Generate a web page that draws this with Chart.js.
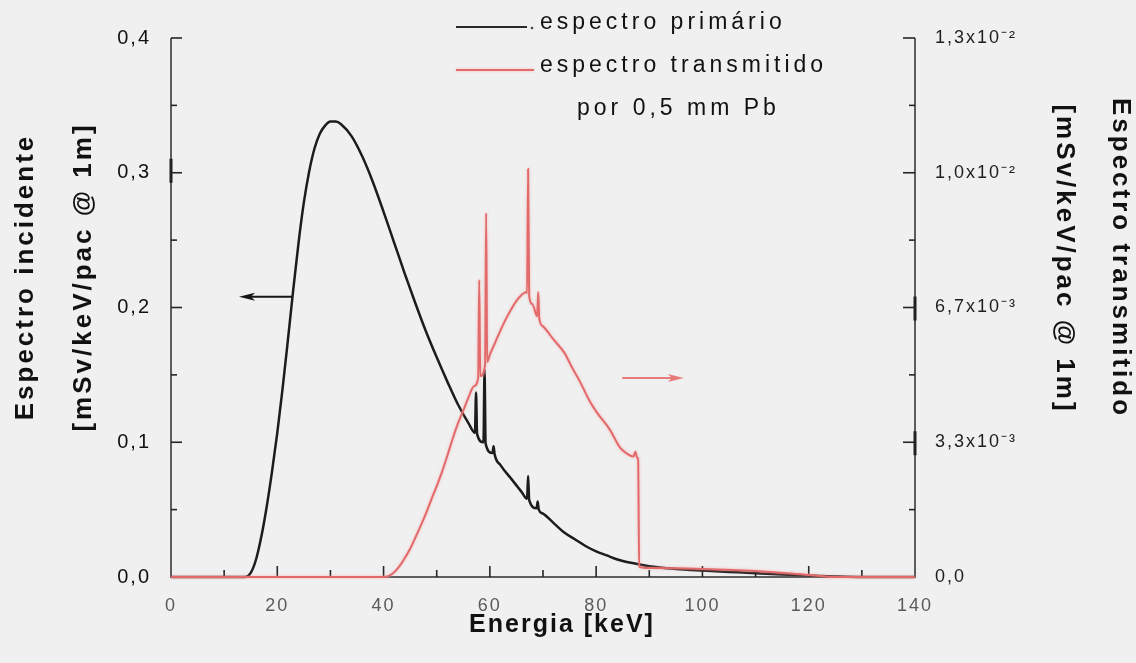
<!DOCTYPE html>
<html lang="pt">
<head>
<meta charset="utf-8">
<title>Espectro primário e transmitido</title>
<script src="https://cdn.jsdelivr.net/npm/chart.js@4.4.1/dist/chart.umd.min.js"></script>
<style>
  html, body { margin: 0; padding: 0; background: #f0f0f0; }
  canvas { display: block; }
</style>
</head>
<body>
<canvas id="grafico" width="1136" height="663"></canvas>
<script>
// Espectro primário (eixo esquerdo, mSv/keV/pac @ 1m)
const energiaPrimario = [0, 14, 15, 16, 17, 18, 19, 20, 21, 22,
  23, 24, 25, 26, 27, 28, 29, 30, 31, 32,
  34, 36, 38, 40, 42, 44, 46, 48, 50, 52,
  54, 56, 57.2, 57.4, 57.6, 58.8, 59.0, 59.2, 60.5, 60.7,
  60.9, 62, 64, 66, 67.0, 67.2, 67.4, 68.8, 69.0, 69.2,
  70, 72, 74, 76, 78, 80, 82, 84, 86, 88,
  90, 95, 100, 105, 110, 115, 120, 125, 130, 140];
const espectroPrimario = [0, 0, 0.003, 0.013, 0.030, 0.052, 0.078, 0.107, 0.140, 0.176,
  0.213, 0.248, 0.278, 0.301, 0.318, 0.329, 0.335, 0.338, 0.338, 0.336,
  0.327, 0.312, 0.293, 0.271, 0.248, 0.225, 0.203, 0.182, 0.163, 0.145,
  0.128, 0.114, 0.107, 0.137, 0.106, 0.100, 0.154, 0.099, 0.092, 0.097,
  0.091, 0.083, 0.073, 0.063, 0.058, 0.075, 0.057, 0.051, 0.056, 0.050,
  0.047, 0.040, 0.033, 0.028, 0.023, 0.019, 0.016, 0.013, 0.011, 0.0095,
  0.008, 0.006, 0.0048, 0.0038, 0.0028, 0.0019, 0.0011, 0.0004, 0, 0];

// Espectro transmitido por 0,5 mm Pb (eixo direito, em 10^-3 mSv/keV/pac @ 1m)
const energiaTransmitido = [0, 40, 41, 42, 43, 44, 45, 46, 47, 48,
  49, 50, 51, 52, 53, 54, 55, 56, 57, 57.8,
  58.0, 58.2, 59.1, 59.3, 59.5, 60, 61, 62, 63, 64,
  65, 66, 66.8, 67.0, 67.2, 67.4, 68, 68.9, 69.1, 69.3,
  70, 72, 74, 75.6, 77, 78.8, 80.2, 82.6, 84.5, 85.5,
  87, 87.4, 87.7, 87.9, 88.1, 90, 100, 110, 120, 125,
  140];
const espectroTransmitido = [0, 0, 0.03, 0.12, 0.27, 0.47, 0.7, 0.98, 1.27, 1.58,
  1.92, 2.25, 2.6, 3.0, 3.42, 3.8, 4.12, 4.45, 4.72, 4.92,
  7.35, 4.97, 5.25, 9.0, 5.32, 5.5, 5.8, 6.1, 6.38, 6.62,
  6.83, 6.98, 7.05, 7.02, 10.1, 6.95, 6.75, 6.45, 7.05, 6.4,
  6.2, 5.87, 5.55, 5.15, 4.82, 4.35, 4.06, 3.64, 3.2, 3.08,
  2.98, 3.1, 2.95, 2.92, 0.25, 0.22, 0.2, 0.15, 0.05, 0,
  0];

// Marcas e rótulos dos eixos
const valoresEsquerdo = [0, 0.1, 0.2, 0.3, 0.4];
const rotulosEsquerdo = ['0,0', '0,1', '0,2', '0,3', '0,4'];
const menoresEsquerdo = [0.05, 0.15, 0.25, 0.35];
const valoresDireito = [0, 10 / 3, 20 / 3, 10, 40 / 3];
const rotulosDireito = ['0,0', '3,3x10\u207B\u00B3', '6,7x10\u207B\u00B3', '1,0x10\u207B\u00B2', '1,3x10\u207B\u00B2'];
const menoresDireito = [5 / 3, 5, 25 / 3, 35 / 3];
const menoresEnergia = [10, 30, 50, 70, 90, 110, 130];

// Textos
const tituloEsquerdo = ['Espectro incidente', '[mSv/keV/pac @ 1m]'];
const tituloDireito = ['Espectro transmitido', '[mSv/keV/pac @ 1m]'];
const tituloEnergia = 'Energia [keV]';
const nomePrimario = 'espectro primário';
const nomeTransmitido = ['espectro transmitido', 'por 0,5 mm Pb'];

// Setas indicando o eixo de cada curva (em unidades de dados)
const setas = [
  { eixo: 'y', de: [22.8, 0.208], para: [12.8, 0.208], cor: '#161616' },
  { eixo: 'y2', de: [84.9, 4.92], para: [96.5, 4.92], cor: '#e77a7a' }
];

const FONTE = '"Liberation Sans", Arial, Helvetica, sans-serif';
const PRETO = '#1c1c1c';
const VERMELHO = '#e26a6a';

function pontos(xs, ys) {
  return xs.map((x, i) => ({ x: x, y: ys[i] }));
}

function texto(ctx, str, x, y, o) {
  ctx.save();
  ctx.translate(x, y);
  ctx.rotate(o.rot || 0);
  ctx.font = o.font;
  ctx.fillStyle = o.color || '#111';
  ctx.letterSpacing = o.spacing || '0px';
  ctx.textAlign = o.align || 'left';
  ctx.textBaseline = o.baseline || 'alphabetic';
  ctx.fillText(str, 0, 0);
  ctx.restore();
}

function linha(ctx, x1, y1, x2, y2) {
  ctx.beginPath();
  ctx.moveTo(x1, y1);
  ctx.lineTo(x2, y2);
  ctx.stroke();
}

const moldura = {
  id: 'moldura',
  beforeDraw(chart) {
    chart.ctx.letterSpacing = '2px';
  },
  beforeDatasetsDraw(chart) {
    const { ctx, chartArea: a, scales: { x, y, y2 } } = chart;
    ctx.save();
    ctx.lineCap = 'butt';
    // linhas dos eixos
    ctx.strokeStyle = '#5c5c5c';
    ctx.lineWidth = 2;
    ctx.beginPath();
    ctx.moveTo(a.left, a.top);
    ctx.lineTo(a.left, a.bottom);
    ctx.lineTo(a.right, a.bottom);
    ctx.lineTo(a.right, a.top);
    ctx.stroke();

    ctx.strokeStyle = '#262626';
    ctx.lineWidth = 1.6;
    // eixo de energia: marcas para dentro
    x.ticks.forEach(t => {
      if (t.value <= x.min || t.value >= x.max) return;
      const px = x.getPixelForValue(t.value);
      linha(ctx, px, a.bottom, px, a.bottom - 11);
    });
    menoresEnergia.forEach(v => {
      const px = x.getPixelForValue(v);
      linha(ctx, px, a.bottom, px, a.bottom - 7);
    });
    // eixo esquerdo
    y.ticks.forEach(t => {
      if (t.value <= y.min) return;
      const py = y.getPixelForValue(t.value);
      linha(ctx, a.left, py, a.left + 11, py);
    });
    menoresEsquerdo.forEach(v => {
      const py = y.getPixelForValue(v);
      linha(ctx, a.left, py, a.left + 6, py);
    });
    // eixo direito
    y2.ticks.forEach(t => {
      if (t.value <= y2.min) return;
      const py = y2.getPixelForValue(t.value);
      linha(ctx, a.right, py, a.right - 12, py);
    });
    menoresDireito.forEach(v => {
      const py = y2.getPixelForValue(v);
      linha(ctx, a.right, py, a.right - 6, py);
    });
    // trechos mais grossos do eixo junto a algumas marcas
    ctx.lineWidth = 3;
    ctx.strokeStyle = '#202020';
    [0.3].forEach(v => {
      const py = y.getPixelForValue(v);
      linha(ctx, a.left, py - 14, a.left, py + 10);
    });
    [10 / 3, 20 / 3].forEach(v => {
      const py = y2.getPixelForValue(v);
      linha(ctx, a.right, py - 11, a.right, py + 13);
    });
    ctx.restore();

    // halo suave na curva transmitida
    ctx.save();
  },
  beforeDatasetDraw(chart, args) {
    const ctx = chart.ctx;
    ctx.save();
    if (args.meta.yAxisID === 'y2') {
      ctx.shadowColor = 'rgba(245, 160, 160, 0.7)';
      ctx.shadowBlur = 3;
    }
  },
  afterDatasetDraw(chart) {
    chart.ctx.restore();
  },
  afterDatasetsDraw(chart) {
    chart.ctx.restore();
  },
  afterDraw(chart) {
    const { ctx, scales } = chart;
    const negrito = 'bold 26px ' + FONTE;

    // títulos dos eixos
    texto(ctx, tituloEsquerdo[0], 33, 277, { font: negrito, spacing: '3px', align: 'center', rot: -Math.PI / 2 });
    texto(ctx, tituloEsquerdo[1], 91, 277, { font: negrito, spacing: '3px', align: 'center', rot: -Math.PI / 2 });
    texto(ctx, tituloDireito[0], 1113, 258, { font: negrito, spacing: '3px', align: 'center', rot: Math.PI / 2 });
    texto(ctx, tituloDireito[1], 1057, 259, { font: negrito, spacing: '3px', align: 'center', rot: Math.PI / 2 });
    texto(ctx, tituloEnergia, 562, 632, { font: 'bold 25px ' + FONTE, spacing: '2px', align: 'center' });

    // legenda
    const fonteLeg = '23px ' + FONTE;
    ctx.save();
    ctx.lineWidth = 2.2;
    ctx.strokeStyle = '#2a2a2a';
    linha(ctx, 456, 27, 527, 27);
    ctx.fillStyle = '#444';
    ctx.beginPath();
    ctx.arc(532, 28, 1.3, 0, Math.PI * 2);
    ctx.fill();
    ctx.strokeStyle = VERMELHO;
    ctx.shadowColor = 'rgba(245, 160, 160, 0.7)';
    ctx.shadowBlur = 3;
    linha(ctx, 456, 70, 534, 70);
    ctx.restore();
    texto(ctx, nomePrimario, 540, 29, { font: fonteLeg, spacing: '4px', color: '#111' });
    texto(ctx, nomeTransmitido[0], 540, 72, { font: fonteLeg, spacing: '4px', color: '#111' });
    texto(ctx, nomeTransmitido[1], 577, 115, { font: fonteLeg, spacing: '4px', color: '#111' });

    // setas
    setas.forEach(s => {
      const ys = scales[s.eixo];
      const x1 = scales.x.getPixelForValue(s.de[0]);
      const x2 = scales.x.getPixelForValue(s.para[0]);
      const py = ys.getPixelForValue(s.de[1]);
      const dir = Math.sign(x2 - x1);
      const cab = 16;
      ctx.save();
      ctx.strokeStyle = s.cor;
      ctx.fillStyle = s.cor;
      ctx.lineWidth = 2;
      linha(ctx, x1, py, x2 - dir * cab * 0.6, py);
      ctx.beginPath();
      ctx.moveTo(x2, py);
      ctx.lineTo(x2 - dir * cab, py - 4);
      ctx.lineTo(x2 - dir * cab * 0.75, py);
      ctx.lineTo(x2 - dir * cab, py + 4);
      ctx.closePath();
      ctx.fill();
      ctx.restore();
    });
  }
};

new Chart(document.getElementById('grafico'), {
  type: 'line',
  data: {
    datasets: [
      {
        label: nomeTransmitido.join(' '),
        data: pontos(energiaTransmitido, espectroTransmitido),
        yAxisID: 'y2',
        borderColor: VERMELHO,
        borderWidth: 2,
        order: 1,
        clip: 6
      },
      {
        label: nomePrimario,
        data: pontos(energiaPrimario, espectroPrimario),
        yAxisID: 'y',
        borderColor: PRETO,
        borderWidth: 2.5,
        order: 2,
        clip: 6
      }
    ]
  },
  options: {
    responsive: false,
    animation: false,
    devicePixelRatio: 1,
    layout: { padding: { top: 38, left: 0, right: 0, bottom: 0 } },
    plugins: { legend: { display: false }, tooltip: { enabled: false } },
    elements: {
      point: { radius: 0 },
      line: { cubicInterpolationMode: 'monotone', borderJoinStyle: 'round' }
    },
    scales: {
      x: {
        type: 'linear', position: 'bottom', min: 0, max: 140,
        grid: { display: false }, border: { display: false },
        ticks: {
          stepSize: 20, padding: 10, autoSkip: false, maxRotation: 0,
          color: '#5a5a5a', font: { family: FONTE, size: 18 }
        },
        afterFit(s) { s.height = 86; }
      },
      y: {
        type: 'linear', position: 'left', min: 0, max: 0.4,
        grid: { display: false }, border: { display: false },
        afterBuildTicks(s) { s.ticks = valoresEsquerdo.map(v => ({ value: v })); },
        ticks: {
          padding: 12, color: '#111', font: { family: FONTE, size: 20 },
          callback: (v, i) => rotulosEsquerdo[i]
        },
        afterFit(s) { s.width = 171; }
      },
      y2: {
        type: 'linear', position: 'right', min: 0, max: 40 / 3,
        grid: { display: false }, border: { display: false },
        afterBuildTicks(s) { s.ticks = valoresDireito.map(v => ({ value: v })); },
        ticks: {
          padding: 12, color: '#1e1e1e', font: { family: FONTE, size: 18 },
          callback: (v, i) => rotulosDireito[i]
        },
        afterFit(s) { s.width = 221; }
      }
    }
  },
  plugins: [moldura]
});
</script>
</body>
</html>
